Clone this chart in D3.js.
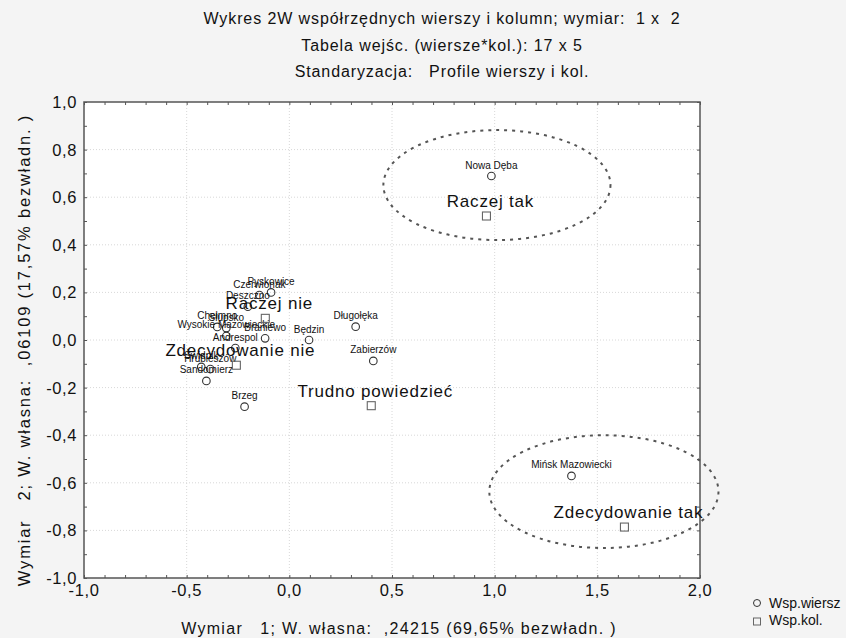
<!DOCTYPE html>
<html lang="pl">
<head>
<meta charset="UTF-8" />
<title>Wykres 2W</title>
<style>
  body { margin: 0; background: #f4f4f4; }
  svg { display: block; font-family: "Liberation Sans", Arial, sans-serif; }
</style>
</head>
<body>
<svg width="846" height="638" id="svg"></svg>
<script src="https://cdn.jsdelivr.net/npm/d3@7"></script>
<script>
const titleLines = [
  "Wykres 2W współrzędnych wierszy i kolumn; wymiar:  1 x  2",
  "Tabela wejśc. (wiersze*kol.): 17 x 5",
  "Standaryzacja:   Profile wierszy i kol."
]
const xTitle = "Wymiar   1; W. własna:  ,24215 (69,65% bezwładn. )"
const yTitle = "Wymiar   2; W. własna:  ,06109 (17,57% bezwładn. )"

// wiersze (miejscowości)
const rowNames = ["Nowa Dęba", "Mińsk Mazowiecki", "Długołęka", "Zabierzów", "Będzin", "Brzeg",
  "Sandomierz", "Hrubieszów", "Świdnik", "Andrespol", "Braniewo", "Wysokie Mazowieckie",
  "Słupsko", "Chełmno", "Deszczno", "Czerwionak", "Pyskowice"]
const rowX = [0.984, 1.374, 0.323, 0.409, 0.096, -0.218, -0.404, -0.385, -0.429, -0.263, -0.118, -0.307,
  -0.307, -0.351, -0.202, -0.146, -0.089]
const rowY = [0.689, -0.571, 0.056, -0.088, 0.0, -0.280, -0.172, -0.122, -0.113, -0.034, 0.007, 0.017,
  0.050, 0.055, 0.140, 0.189, 0.200]

// kolumny (odpowiedzi)
const colNames = ["Raczej tak", "Zdecydowanie tak", "Trudno powiedzieć", "Raczej nie", "Zdecydowanie nie"]
const colX = [0.960, 1.632, 0.399, -0.117, -0.258]
const colY = [0.521, -0.786, -0.276, 0.091, -0.106]

// elipsy zaznaczające grupy (środek i półosie w jednostkach wykresu)
const ellCx = [1.011, 1.532]
const ellCy = [0.651, -0.637]
const ellRx = [0.553, 0.558]
const ellRy = [0.231, 0.237]

const xTicks = [-1.0, -0.5, 0.0, 0.5, 1.0, 1.5, 2.0]
const yTicks = [-1.0, -0.8, -0.6, -0.4, -0.2, 0.0, 0.2, 0.4, 0.6, 0.8, 1.0]
const legendLabels = ["Wsp.wiersz", "Wsp.kol."]

const svg = d3.select("#svg")
const margin = { top: 102, left: 84, right: 146, bottom: 60 }
const width = +svg.attr("width")
const height = +svg.attr("height")

const x = d3.scaleLinear().domain([-1, 2]).range([margin.left, width - margin.right])
const y = d3.scaleLinear().domain([-1, 1]).range([height - margin.bottom, margin.top])
const fmt = d => d3.format(".1f")(d).replace(".", ",").replace("−", "-")

svg.append("rect").attr("width", width).attr("height", height).attr("fill", "#f4f4f4")

// tytuł
svg.append("g").selectAll("text").data(titleLines).join("text")
  .attr("x", 442).attr("y", (d, i) => 24 + i * 26.5)
  .attr("text-anchor", "middle").attr("font-size", 16).attr("letter-spacing", 0.9)
  .attr("fill", "#111").attr("xml:space", "preserve")
  .text(d => d)

// obszar wykresu
svg.append("rect")
  .attr("x", x(-1)).attr("y", y(1))
  .attr("width", x(2) - x(-1)).attr("height", y(-1) - y(1))
  .attr("fill", "#fff")

const grid = svg.append("g").attr("stroke", "#d8d8d8").attr("stroke-dasharray", "1,2")
grid.selectAll(".gx").data(xTicks.slice(1, -1)).join("line")
  .attr("x1", d => x(d)).attr("x2", d => x(d)).attr("y1", y(1)).attr("y2", y(-1))
grid.selectAll(".gy").data(yTicks.slice(1, -1)).join("line")
  .attr("y1", d => y(d)).attr("y2", d => y(d)).attr("x1", x(-1)).attr("x2", x(2))

// osie z kreskami do wewnątrz
const minorX = d3.range(-10, 21).map(d => d / 10)
const minorY = d3.range(-10, 11).map(d => d / 10)
function tickAxis(axis, tv, size) {
  return axis.tickValues(tv).tickSize(size).tickFormat("")
}
const axG = svg.append("g").attr("color", "#555")
axG.append("g").attr("transform", `translate(0,${y(-1)})`)
  .call(tickAxis(d3.axisTop(x), minorX, 3))
axG.append("g").attr("transform", `translate(0,${y(1)})`)
  .call(tickAxis(d3.axisBottom(x), minorX, 3))
axG.append("g").attr("transform", `translate(${x(-1)},0)`)
  .call(tickAxis(d3.axisRight(y), minorY, 3))
axG.append("g").attr("transform", `translate(${x(2)},0)`)
  .call(tickAxis(d3.axisLeft(y), minorY, 3))
axG.selectAll(".domain").remove()

svg.append("rect")
  .attr("x", x(-1)).attr("y", y(1))
  .attr("width", x(2) - x(-1)).attr("height", y(-1) - y(1))
  .attr("fill", "none").attr("stroke", "#555").attr("stroke-width", 1.5)

// etykiety osi
svg.append("g").selectAll("text").data(xTicks).join("text")
  .attr("x", d => x(d)).attr("y", y(-1) + 18)
  .attr("text-anchor", "middle").attr("font-size", 16.5).attr("letter-spacing", 0.6).attr("fill", "#111")
  .text(fmt)
svg.append("g").selectAll("text").data(yTicks).join("text")
  .attr("x", x(-1) - 7).attr("y", d => y(d) + 6)
  .attr("text-anchor", "end").attr("font-size", 16.5).attr("letter-spacing", 0.6).attr("fill", "#111")
  .text(fmt)

svg.append("text")
  .attr("x", 399).attr("y", 634)
  .attr("text-anchor", "middle").attr("font-size", 16).attr("letter-spacing", 1.3)
  .attr("xml:space", "preserve").attr("fill", "#111")
  .text(xTitle)
svg.append("text")
  .attr("transform", `translate(30,350) rotate(-90)`)
  .attr("text-anchor", "middle").attr("font-size", 16.5).attr("letter-spacing", 1.8)
  .attr("xml:space", "preserve").attr("fill", "#111")
  .text(yTitle)

// elipsy
svg.append("g").selectAll("ellipse").data(ellCx).join("ellipse")
  .attr("cx", d => x(d)).attr("cy", (d, i) => y(ellCy[i]))
  .attr("rx", (d, i) => x(ellRx[i]) - x(0)).attr("ry", (d, i) => y(0) - y(ellRy[i]))
  .attr("fill", "none").attr("stroke", "#555").attr("stroke-width", 2)
  .attr("stroke-dasharray", "3,5")

// punkty wierszy
const rows = rowNames.map((n, i) => ({ name: n, x: rowX[i], y: rowY[i] }))
const cols = colNames.map((n, i) => ({ name: n, x: colX[i], y: colY[i] }))

const rowG = svg.append("g")
rowG.selectAll("circle").data(rows).join("circle")
  .attr("cx", d => x(d.x)).attr("cy", d => y(d.y)).attr("r", 3.8)
  .attr("fill", "none").attr("stroke", "#333").attr("stroke-width", 1.1)
rowG.selectAll("text").data(rows).join("text")
  .attr("x", d => x(d.x)).attr("y", d => y(d.y) - 7.5)
  .attr("text-anchor", "middle").attr("font-size", 10).attr("fill", "#111")
  .text(d => d.name)

// punkty kolumn
const colG = svg.append("g")
colG.selectAll("rect").data(cols).join("rect")
  .attr("x", d => x(d.x) - 4).attr("y", d => y(d.y) - 4).attr("width", 8).attr("height", 8)
  .attr("fill", "none").attr("stroke", "#666").attr("stroke-width", 1.1)
colG.selectAll("text").data(cols).join("text")
  .attr("x", d => x(d.x) + 4).attr("y", d => y(d.y) - 9)
  .attr("text-anchor", "middle").attr("font-size", 17).attr("letter-spacing", 0.8).attr("fill", "#111")
  .text(d => d.name)

// legenda
const leg = svg.append("g")
leg.append("circle").attr("cx", 757).attr("cy", 603).attr("r", 3.5)
  .attr("fill", "none").attr("stroke", "#333")
leg.append("rect").attr("x", 753.5).attr("y", 618).attr("width", 7).attr("height", 7)
  .attr("fill", "none").attr("stroke", "#666")
leg.selectAll("text").data(legendLabels).join("text")
  .attr("x", 769).attr("y", (d, i) => 608 + i * 17)
  .attr("font-size", 14).attr("letter-spacing", 0).attr("fill", "#111")
  .text(d => d)
</script>
</body>
</html>
